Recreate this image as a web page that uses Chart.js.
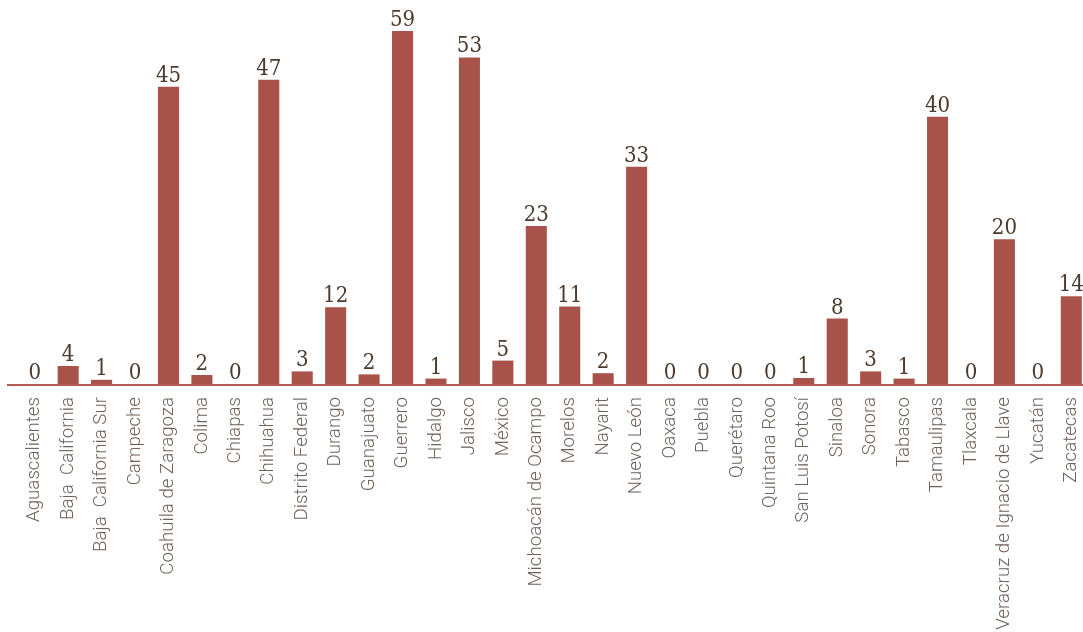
<!DOCTYPE html>
<html>
<head>
<meta charset="utf-8">
<script src="https://cdn.jsdelivr.net/npm/chart.js@4.4.1/dist/chart.umd.min.js"></script>
<style>
    html, body { margin: 0; padding: 0; overflow: hidden; background: #ffffff; }
</style>
</head>
<body>
<canvas id="statesGraph" width="1090" height="632"></canvas>
<script>
var states = ["Aguascalientes", "Baja  California", "Baja  California Sur", "Campeche", "Coahuila de Zaragoza", "Colima", "Chiapas", "Chihuahua", "Distrito Federal", "Durango", "Guanajuato", "Guerrero", "Hidalgo", "Jalisco", "México", "Michoacán de Ocampo", "Morelos", "Nayarit", "Nuevo León", "Oaxaca", "Puebla", "Querétaro", "Quintana Roo", "San Luis Potosí", "Sinaloa", "Sonora", "Tabasco", "Tamaulipas", "Tlaxcala", "Veracruz de Ignacio de Llave", "Yucatán", "Zacatecas"];
// printed value above each bar
var labelValues = [0, 4, 1, 0, 45, 2, 0, 47, 3, 12, 2, 59, 1, 53, 5, 23, 11, 2, 33, 0, 0, 0, 0, 1, 8, 3, 1, 40, 0, 20, 0, 14];
// bar heights (they do not follow the printed values exactly)
var barValues = [0, 3.0, 0.7, 0, 49.5, 1.5, 0, 50.7, 2.1, 12.8, 1.6, 58.8, 0.9, 54.4, 3.9, 26.3, 12.9, 1.8, 36.2, 0, 0, 0, 0, 1.0, 10.9, 2.1, 0.9, 44.5, 0, 24.1, 0, 14.6];
var yMax = 58.8;

var barColor = "#a9524a";
var lineColor = "#b35c53";
var valueColor = "#4b3a2d";
var tickColor = "#6e6158";

var valueLabels = {
    id: "valueLabels",
    afterDatasetsDraw: function (chart) {
        var ctx = chart.ctx;
        var y0 = chart.scales.y.getPixelForValue(0);
        // base line
        ctx.save();
        ctx.strokeStyle = lineColor;
        ctx.lineWidth = 2;
        ctx.beginPath();
        ctx.moveTo(7, y0 + 1);
        ctx.lineTo(chart.width, y0 + 1);
        ctx.stroke();
        // values
        var meta = chart.getDatasetMeta(0);
        ctx.fillStyle = valueColor;
        ctx.font = "22px 'DejaVu Serif Condensed', 'DejaVu Serif'";
        ctx.textAlign = "center";
        ctx.textBaseline = "alphabetic";
        meta.data.forEach(function (bar, i) {
            ctx.fillText(String(labelValues[i]), bar.x, bar.y - 5);
        });
        ctx.restore();
    },
};

var config = {
    type: "bar",
    data: {
        labels: states,
        datasets: [
            {
                data: barValues,
                backgroundColor: barColor,
                borderWidth: 0,
                barPercentage: 0.63,
                categoryPercentage: 1,
            },
        ],
    },
    options: {
        responsive: false,
        animation: false,
        layout: {
            padding: { top: 31, left: 18, right: 2, bottom: 0 },
        },
        plugins: {
            legend: { display: false },
            tooltip: { enabled: false },
        },
        scales: {
            x: {
                grid: { display: false, drawTicks: false },
                border: { display: false },
                ticks: {
                    autoSkip: false,
                    maxRotation: 90,
                    minRotation: 90,
                    padding: 13,
                    color: tickColor,
                    font: { family: "Roboto", weight: "300", size: 18.7 },
                },
                afterFit: function (scale) {
                    scale.height = 248;
                    scale.paddingLeft = 0;
                    scale.paddingRight = 0;
                },
            },
            y: {
                display: false,
                min: 0,
                max: yMax,
            },
        },
    },
    plugins: [valueLabels],
};

var statesGraph = new Chart("statesGraph", config);
</script>
</body>
</html>
